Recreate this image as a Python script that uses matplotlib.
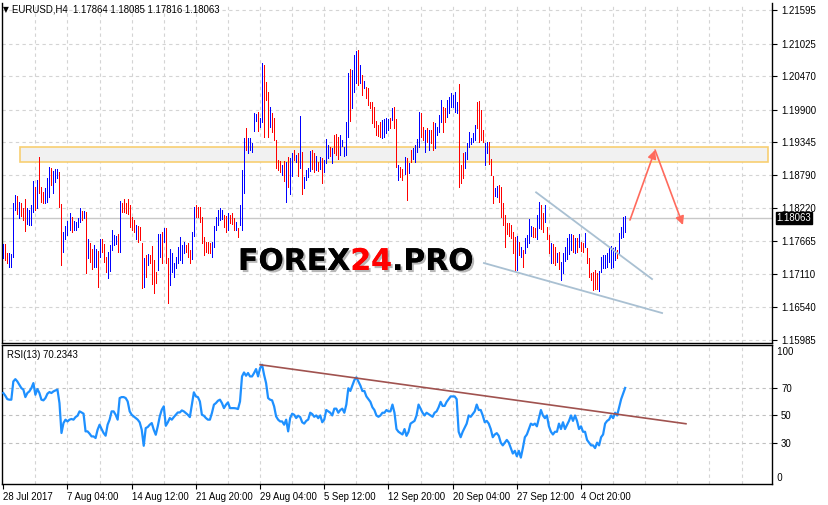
import matplotlib
matplotlib.use("Agg")
import matplotlib.pyplot as plt
import matplotlib.patheffects as pe
from matplotlib.patches import Rectangle, FancyArrowPatch
import numpy as np

# ---------------- data ----------------
HIGH = [
    1.17609, 1.17609, 1.17455, 1.17455, 1.17444, 1.18307, 1.18449, 1.18432, 1.18336, 1.18307,
    1.18222, 1.18375, 1.18222, 1.18194, 1.18279, 1.18688, 1.18591, 1.18705, 1.19102, 1.18591,
    1.18506, 1.18563, 1.18733, 1.18932, 1.18904, 1.18864, 1.18887, 1.18892, 1.18847, 1.18290,
    1.17824, 1.17921, 1.18006, 1.18148, 1.18080, 1.18012, 1.17995, 1.18052, 1.18233, 1.18177,
    1.18177, 1.18165, 1.17694, 1.17637, 1.17523, 1.17597, 1.17529, 1.17501, 1.17699, 1.17694,
    1.17609, 1.17398, 1.17483, 1.17597, 1.17853, 1.17768, 1.17751, 1.17785, 1.18347, 1.18307,
    1.18381, 1.18319, 1.18375, 1.18279, 1.18080, 1.18023, 1.17938, 1.17921, 1.17898, 1.17626,
    1.17370, 1.17427, 1.17444, 1.17427, 1.17580, 1.17342, 1.17143, 1.17779, 1.17779, 1.17824,
    1.17881, 1.17881, 1.17370, 1.17529, 1.17455, 1.17285, 1.17398, 1.17569, 1.17739, 1.17597,
    1.17654, 1.17597, 1.17626, 1.17512, 1.17824, 1.18250, 1.18279, 1.18250, 1.18239, 1.18080,
    1.17728, 1.17654, 1.17654, 1.17637, 1.17654, 1.17921, 1.18080, 1.18194, 1.18222, 1.18194,
    1.18108, 1.18091, 1.18137, 1.18108, 1.18137, 1.18052, 1.17995, 1.17881, 1.18279, 1.18875,
    1.19415, 1.19585, 1.19415, 1.19415, 1.19330, 1.19841, 1.19830, 1.19870, 1.19756, 1.20693,
    1.20665, 1.20381, 1.20211, 1.19955, 1.19853, 1.19756, 1.19387, 1.19046, 1.19035, 1.18961,
    1.19035, 1.19018, 1.19103, 1.19075, 1.19160, 1.19217, 1.19131, 1.19160, 1.19796, 1.19188,
    1.18762, 1.18876, 1.18904, 1.19205, 1.19217, 1.19160, 1.19114, 1.19018, 1.19092, 1.19075,
    1.19046, 1.19398, 1.19302, 1.19273, 1.19245, 1.19472, 1.19489, 1.19444, 1.19472, 1.19387,
    1.19273, 1.19699, 1.20523, 1.20597, 1.20580, 1.20835, 1.20909, 1.20921, 1.20665, 1.20495,
    1.20398, 1.20296, 1.20268, 1.20040, 1.20040, 1.19955, 1.19716, 1.19643, 1.19700, 1.19728,
    1.19739, 1.19756, 1.19739, 1.19756, 1.19927, 1.19944, 1.19739, 1.18961, 1.18933, 1.18887,
    1.19092, 1.19075, 1.18990, 1.19217, 1.19245, 1.19302, 1.19399, 1.19870, 1.19842, 1.19614,
    1.19558, 1.19586, 1.19558, 1.19558, 1.19700, 1.19671, 1.19614, 1.19813, 1.20069, 1.19944,
    1.19927, 1.20069, 1.20114, 1.20194, 1.20154, 1.20211, 1.20040, 1.20341, 1.18961, 1.19160,
    1.19188, 1.19330, 1.19529, 1.19416, 1.19501, 1.19643, 1.20040, 1.20057, 1.19898, 1.19558,
    1.19342, 1.19359, 1.19359, 1.19058, 1.18774, 1.18564, 1.18603, 1.18620, 1.18592, 1.18308,
    1.18109, 1.17978, 1.17967, 1.17939, 1.17825, 1.17740, 1.17751, 1.17655, 1.17569, 1.17513,
    1.17711, 1.17768, 1.18041, 1.17922, 1.17899, 1.17882, 1.18109, 1.18336, 1.18279, 1.18137,
    1.18279, 1.17899, 1.17768, 1.17638, 1.17615, 1.17569, 1.17467, 1.17484, 1.17314, 1.17467,
    1.17569, 1.17711, 1.17785, 1.17785, 1.17768, 1.17711, 1.17711, 1.17785, 1.17655, 1.17626,
    1.17797, 1.17541, 1.17371, 1.17126, 1.17143, 1.17172, 1.17115, 1.17149, 1.17399, 1.17427,
    1.17427, 1.17456, 1.17541, 1.17581, 1.17541, 1.17569, 1.17513, 1.17797, 1.17899, 1.18069,
    1.18085,
]
LOW = [
    1.17381, 1.17342, 1.17285, 1.17217, 1.17217, 1.17387, 1.18194, 1.18120, 1.18052, 1.18097,
    1.18023, 1.17841, 1.17955, 1.17938, 1.17938, 1.18165, 1.18194, 1.18222, 1.18478, 1.18336,
    1.18307, 1.18307, 1.18336, 1.18421, 1.18620, 1.18489, 1.18676, 1.18733, 1.18239, 1.17256,
    1.17483, 1.17694, 1.17768, 1.17853, 1.17824, 1.17853, 1.17853, 1.17910, 1.17995, 1.18023,
    1.18052, 1.17126, 1.17381, 1.17313, 1.17183, 1.17217, 1.17217, 1.16876, 1.17387, 1.17483,
    1.17302, 1.17143, 1.17029, 1.17160, 1.17512, 1.17597, 1.17614, 1.17483, 1.17483, 1.18165,
    1.18165, 1.18148, 1.18126, 1.17910, 1.17853, 1.17824, 1.17694, 1.17654, 1.17682, 1.16859,
    1.16887, 1.17058, 1.17256, 1.17285, 1.16933, 1.16785, 1.16955, 1.17171, 1.17398, 1.17285,
    1.17654, 1.17285, 1.16603, 1.16916, 1.17143, 1.17058, 1.17200, 1.17285, 1.17342, 1.17285,
    1.17455, 1.17484, 1.17398, 1.17296, 1.17353, 1.17751, 1.18069, 1.18069, 1.17995, 1.17637,
    1.17427, 1.17484, 1.17455, 1.17467, 1.17387, 1.17569, 1.17853, 1.17938, 1.18023, 1.18035,
    1.17910, 1.17824, 1.17853, 1.17966, 1.17955, 1.17853, 1.17853, 1.17728, 1.17938, 1.17853,
    1.18478, 1.19216, 1.19159, 1.19216, 1.19188, 1.19546, 1.19716, 1.19546, 1.19603, 1.19699,
    1.19444, 1.20069, 1.19444, 1.19614, 1.19529, 1.19387, 1.18904, 1.18876, 1.18847, 1.18791,
    1.18694, 1.18336, 1.18592, 1.18467, 1.18774, 1.19046, 1.19018, 1.18774, 1.18904, 1.18467,
    1.18563, 1.18706, 1.18762, 1.18864, 1.18887, 1.18847, 1.18876, 1.18864, 1.18887, 1.18660,
    1.18847, 1.18989, 1.19075, 1.19114, 1.19001, 1.19171, 1.19131, 1.19058, 1.19131, 1.19285,
    1.19114, 1.19131, 1.19444, 1.19716, 1.19927, 1.20211, 1.20353, 1.20324, 1.20353, 1.20154,
    1.20267, 1.20097, 1.19983, 1.19927, 1.19671, 1.19614, 1.19472, 1.19455, 1.19444, 1.19416,
    1.19444, 1.19501, 1.19558, 1.19586, 1.19728, 1.19586, 1.18933, 1.18706, 1.18762, 1.18706,
    1.18808, 1.18365, 1.18819, 1.19018, 1.19058, 1.19018, 1.19188, 1.19274, 1.19444, 1.19387,
    1.19188, 1.19359, 1.19217, 1.19330, 1.19217, 1.19245, 1.19472, 1.19529, 1.19700, 1.19529,
    1.19700, 1.19785, 1.19853, 1.19955, 1.19955, 1.19870, 1.19842, 1.18592, 1.18649, 1.18734,
    1.18904, 1.19058, 1.19274, 1.19319, 1.19359, 1.19387, 1.19586, 1.19359, 1.19387, 1.19359,
    1.18961, 1.19160, 1.18978, 1.18791, 1.18308, 1.18433, 1.18422, 1.18336, 1.18081, 1.17939,
    1.17558, 1.17785, 1.17751, 1.17711, 1.17456, 1.17160, 1.17172, 1.17427, 1.17388, 1.17217,
    1.17456, 1.17569, 1.17626, 1.17751, 1.17740, 1.17740, 1.17694, 1.17882, 1.17865, 1.17825,
    1.17995, 1.17694, 1.17456, 1.17285, 1.17285, 1.17257, 1.17314, 1.17183, 1.17001, 1.17115,
    1.17331, 1.17354, 1.17444, 1.17513, 1.17484, 1.17456, 1.17484, 1.17558, 1.17501, 1.17484,
    1.17558, 1.17297, 1.17058, 1.17001, 1.16831, 1.16848, 1.16842, 1.16820, 1.17143, 1.17200,
    1.17200, 1.17229, 1.17314, 1.17200, 1.17229, 1.17342, 1.17371, 1.17456, 1.17711, 1.17728,
    1.17816,
]
# U = bullish bar (blue), D = bearish bar (red)
DIRECTION = (
    "UDDUUUUDUD" "DDUUUUDUDD" "DUUUDUUUDD" "UUUUDUUUUD" "UDUDDUUDUD"
    "DDUUUUUDUD" "DDDDDDUDDD" "UDUDDDDUUD" "UDDUUUUUUU" "UDDDUUDDDD"
    "DDDDUUUUUU" "DDUDDDUDUU" "UDUUUUUDUU" "DDDUDDDDDU" "DUDUUDUDUD"
    "UUUUDDUDUD" "UUUDUDDDUU" "UUUDUUUDUD" "UDDDDDDDDU" "UUUDUDDUDD"
    "UDUDUUUUDD" "UDUDDUUUUD" "DUUUUUUDDD" "UUUUUUDDDD" "UUDDDUUDDD"
    "DDDDDDUDUD" "UUUUDDUUDD" "UDDUDDUDUU" "UUUUDUDUDD" "UDDDDDDUUU"
    "UUUUUUDUUU" "U"
)
RSI = [
    66.5, 64.5, 62.0, 61.6, 61.6, 75.0, 76.7, 75.0, 72.6, 70.1,
    69.0, 63.5, 66.5, 67.7, 70.1, 73.8, 65.2, 69.4, 66.5, 61.6,
    61.1, 62.8, 66.0, 67.2, 66.5, 67.7, 68.4, 69.0, 59.1, 37.1,
    44.4, 46.9, 45.6, 46.9, 47.4, 46.9, 48.8, 49.8, 53.0, 52.2,
    51.3, 38.3, 38.3, 36.6, 34.6, 34.6, 33.4, 39.5, 43.2, 40.0,
    37.1, 35.1, 43.2, 46.9, 53.0, 53.0, 50.5, 46.9, 62.8, 63.5,
    63.5, 62.8, 60.3, 53.0, 50.5, 49.3, 48.1, 46.9, 44.9, 39.5,
    27.7, 40.7, 41.5, 43.2, 44.4, 39.5, 35.8, 42.0, 49.3, 54.2,
    56.7, 42.4, 44.9, 48.1, 46.9, 48.8, 50.5, 52.2, 52.2, 53.7,
    53.0, 51.8, 50.5, 48.8, 57.9, 67.0, 64.0, 63.5, 60.3, 50.5,
    49.8, 48.1, 46.9, 46.9, 51.8, 57.9, 59.1, 60.8, 61.6, 59.1,
    55.4, 57.9, 59.6, 55.4, 55.4, 55.4, 55.2, 54.7, 60.3, 78.7,
    81.6, 79.2, 81.2, 78.7, 78.7, 81.2, 84.1, 78.7, 84.8, 87.3,
    79.9, 73.8, 62.8, 61.6, 61.1, 56.7, 49.3, 46.9, 45.6, 45.6,
    43.2, 46.9, 38.3, 48.1, 51.3, 50.5, 48.1, 49.8, 48.8,
    45, 44, 46, 47, 52, 51, 49, 50, 48, 50, 45,
    47, 54, 53, 52, 50, 55, 55, 52, 54, 55, 52, 58,
    70, 68, 72, 76, 78, 75,
    72, 68, 68, 64, 62, 60, 56, 54, 50, 49,
    50, 52, 52, 54, 53, 53, 58, 52, 40, 38, 37, 36,
    40, 35, 38, 44, 45, 46, 50, 58, 55, 52, 50,
    52, 51, 50, 49, 52, 53, 56, 60, 57, 57, 60, 62, 64, 64, 64, 62,
    38, 34, 38, 41, 44, 50, 49, 51, 53, 58, 54, 54, 50,
    45, 46, 44, 40, 34, 36, 37, 35, 30, 28,
    30, 32, 30, 26, 22, 24, 20, 24, 19, 26, 34,
    36, 40, 44, 43, 44, 42, 48, 54, 50, 48,
    50, 42, 38, 36, 38, 38, 44, 40, 45, 40, 43, 46, 50, 46, 50,
    46, 40, 42, 38, 38, 32, 30, 28, 28, 26, 30, 28, 34, 36, 44,
    46, 47, 50, 48, 52, 50, 56, 62, 66, 70.2343,
]
PRICE_TICKS = [1.21595, 1.21025, 1.20470, 1.19900, 1.19345, 1.18790,
               1.18220, 1.17665, 1.17110, 1.16540, 1.15985]
RSI_TICKS = [70, 50, 30]
TIME_LABELS = ["28 Jul 2017", "7 Aug 04:00", "14 Aug 12:00", "21 Aug 20:00",
               "29 Aug 04:00", "5 Sep 12:00", "12 Sep 20:00", "20 Sep 04:00",
               "27 Sep 12:00", "4 Oct 20:00"]
TIME_LABEL_BARS = [0, 32, 64, 96, 128, 160, 192, 224, 256, 288]
CURRENT_PRICE = 1.18063
ZONE = (8.3, 381.2, 1.19006, 1.19262)           # bar from, bar to, price low, price high
UPPER_TREND = ([265.6, 323.4], [1.18495, 1.17017])
LOWER_TREND = ([239.6, 328.4], [1.17290, 1.16438])
FORECAST_PATH = ([312.4, 324.9, 338.8], [1.18023, 1.19216, 1.17938])
RSI_TREND = ([128.0, 340.3], [87.3, 43.9])
TITLE = "EURUSD,H4  1.17864 1.18085 1.17816 1.18063"
RSI_TITLE = "RSI(13) 70.2343"

# ---------------- figure ----------------
W, H = 829, 505
fig = plt.figure(figsize=(W / 100, H / 100), dpi=100)
fig.patch.set_facecolor("white")


def fx(px):
    return px / W


def fy(py):
    return 1 - py / H


FONT = "Liberation Sans"
FS = 6.9
GRID_C = "#d4d4d4"
GRID_LS = (0, (3, 3))

ax = fig.add_axes([fx(2), fy(343), fx(772) - fx(2), fy(3) - fy(343)])
ax2 = fig.add_axes([fx(2), fy(484), fx(772) - fx(2), fy(345) - fy(484)])

XMIN, XMAX = -0.65, 383.2
n = min(len(HIGH), len(LOW), len(DIRECTION))
xs = np.arange(n)
cols = ["#0000ff" if DIRECTION[i] == "U" else "#ff0000" for i in range(n)]

# grid
for a in (ax, ax2):
    a.set_xlim(XMIN, XMAX)
    for v in range(16, 384, 16):
        a.axvline(v, color=GRID_C, lw=0.8, ls=GRID_LS, zorder=0)
for p in PRICE_TICKS:
    ax.axhline(p, color=GRID_C, lw=0.8, ls=GRID_LS, zorder=0)
for r in RSI_TICKS:
    ax2.axhline(r, color="#c0c0c0", lw=0.8, ls=GRID_LS, zorder=0)

ax.set_ylim(1.15927, 1.21722)
ax2.set_ylim(-0.4, 101.8)

# zone rectangle
zr = Rectangle((ZONE[0], ZONE[2]), ZONE[1] - ZONE[0], ZONE[3] - ZONE[2],
               facecolor="#f1f1f1", edgecolor="#f8cf72", lw=1.2, zorder=1)
ax.add_patch(zr)

# current price line
ax.axhline(CURRENT_PRICE, color="#c8c8c8", lw=1.0, zorder=1)

# bars (1 px, crisp)
ax.vlines(xs, LOW[:n], HIGH[:n], colors=cols, lw=0.72, antialiased=False, zorder=3)

# trend lines
ax.plot(UPPER_TREND[0], UPPER_TREND[1], color="#a9c0d2", lw=1.3, zorder=4)
ax.plot(LOWER_TREND[0], LOWER_TREND[1], color="#a9c0d2", lw=1.3, zorder=4)

# forecast arrows
arrow_c = "#ff6a5c"
for i in range(2):
    arr = FancyArrowPatch((FORECAST_PATH[0][i], FORECAST_PATH[1][i]),
                          (FORECAST_PATH[0][i + 1], FORECAST_PATH[1][i + 1]),
                          arrowstyle="-|>,head_length=5,head_width=2.5",
                          color=arrow_c, lw=1.2, shrinkA=0, shrinkB=0, zorder=5)
    ax.add_patch(arr)

# watermark
wm_kw = dict(fontsize=21.5, fontweight="bold", family="DejaVu Sans",
             path_effects=[pe.withSimplePatchShadow(offset=(1.5, -1.5), shadow_rgbFace="#888888", alpha=0.6),
                           pe.Normal()], zorder=6)
t1 = fig.text(fx(238), fy(270), "FOREX", color="black", ha="left", va="baseline", **wm_kw)
t2 = ax.annotate("24", xy=(1, 0), xycoords=t1, ha="left", va="bottom", color="#ff0000",
                 annotation_clip=False, **wm_kw)
t3 = ax.annotate(".PRO", xy=(1, 0), xycoords=t2, ha="left", va="bottom", color="black",
                 annotation_clip=False, **wm_kw)

# RSI
m = len(RSI)
ax2.plot(np.arange(m), RSI, color="#1e90ff", lw=1.6, zorder=3)
ax2.plot(RSI_TREND[0], RSI_TREND[1], color="#a0524f", lw=1.2, zorder=4)

# axes styling
for a in (ax, ax2):
    for s in ("left", "right", "bottom", "top"):
        a.spines[s].set_color("black")
        a.spines[s].set_linewidth(1.0)
    a.spines["top"].set_visible(False)
    a.set_facecolor("white")
ax2.spines["top"].set_visible(True)

ax.yaxis.tick_right()
ax.set_yticks(PRICE_TICKS)
ax.set_yticklabels([f"{p:.5f}" for p in PRICE_TICKS], fontsize=FS, family=FONT)
ax.tick_params(axis="y", direction="out", length=3.5, width=0.8, pad=3)
ax.tick_params(axis="x", bottom=False, labelbottom=False)

ax2.yaxis.tick_right()
ax2.set_yticks(RSI_TICKS)
ax2.set_yticklabels([str(r) for r in RSI_TICKS], fontsize=FS, family=FONT)
ax2.tick_params(axis="y", direction="out", length=3.5, width=0.8, pad=3)
ax2.text(1.0, 100, "  100", transform=ax2.get_yaxis_transform(), fontsize=FS, family=FONT,
         ha="left", va="top")
ax2.text(1.0, 0, "  0", transform=ax2.get_yaxis_transform(), fontsize=FS, family=FONT,
         ha="left", va="bottom")

ax2.set_xticks(TIME_LABEL_BARS)
ax2.set_xticklabels(TIME_LABELS, fontsize=FS, family=FONT)
for lab in ax2.get_xticklabels():
    lab.set_ha("left")
ax2.tick_params(axis="x", direction="out", length=3.5, width=0.8, pad=2.5)

# current price box
ax.text(1.006, CURRENT_PRICE - 0.0001, "1.18063", transform=ax.get_yaxis_transform(), color="white",
        fontsize=FS, family=FONT, ha="left", va="center",
        bbox=dict(boxstyle="square,pad=0.1", facecolor="black", edgecolor="black"))

# titles
fig.text(fx(3), fy(10), "\u25bc", fontsize=5.5, family="DejaVu Sans", va="center", ha="left")
fig.text(fx(12), fy(10), TITLE, fontsize=FS, family=FONT, va="center", ha="left")
fig.text(fx(7), fy(355), RSI_TITLE, fontsize=FS, family=FONT, va="center", ha="left")

fig.savefig("out.png", dpi=100)
